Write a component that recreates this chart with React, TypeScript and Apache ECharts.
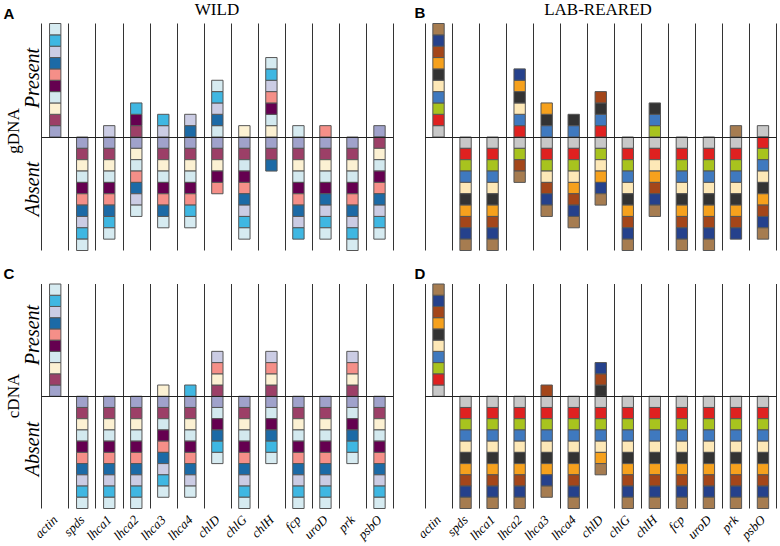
import React, { useEffect, useRef } from "react";
import * as echarts from "echarts";

const genes = ["actin", "spds", "lhca1", "lhca2", "lhca3", "lhca4", "chlD", "chlG", "chlH", "fcp", "uroD", "prk", "psbO"];

// Sample colours (sample 1 = closest to the baseline)
const wildColors = ["#a0a2cb", "#9c3f67", "#fcf1d3", "#d3e9ef", "#650050", "#f58f88", "#1c6aa6", "#cbcce4", "#3fb7e2", "#d6ebf1"];
const labColors = ["#c8c8c8", "#df2120", "#a8c31e", "#3f79bf", "#fde8b7", "#333333", "#f6a11d", "#a4461a", "#25418c", "#a67c50"];

const ALL = [1, 2, 3, 4, 5, 6, 7, 8, 9, 10];
// samples in which the amplicon is present, per gene
const gdnaWildPresent: number[][] = [ALL, [], [8], [2, 5, 9], [8, 9], [7, 8], [4, 7, 8, 9, 10], [3], [3, 4, 5, 6, 8, 9, 10], [10], [6], [], [1]];
const gdnaLabPresent: number[][] = [ALL, [], [], [2, 4, 5, 6, 7, 9], [4, 6, 7], [4, 6], [2, 4, 6, 8], [], [3, 4, 6], [], [], [10], [1]];
const cdnaWildPresent: number[][] = [ALL, [], [], [], [3], [9], [2, 3, 6, 8], [], [2, 3, 6, 8], [], [], [2, 3, 6, 8], []];
const cdnaLabPresent: number[][] = [ALL, [], [], [], [8], [], [6, 8, 9], [], [], [], [], [], []];

function buildCells(present: number[][]) {
  const out: number[][] = [];
  present.forEach((p, g) => {
    let up = 0;
    let down = 0;
    for (let s = 1; s <= 10; s++) {
      if (p.includes(s)) {
        out.push([g, up, up + 1, s - 1]);
        up++;
      } else {
        out.push([g, -down - 1, -down, s - 1]);
        down++;
      }
    }
  });
  return out;
}

const SERIF = "'Liberation Serif', 'Times New Roman', serif";
const SANS = "'Liberation Sans', Arial, sans-serif";

export default function App() {
  const ref = useRef<HTMLDivElement>(null);
  useEffect(() => {
    if (!ref.current) return;
    const chart = echarts.init(ref.current, undefined, { renderer: "svg" });
    const grids = [
      { left: 41.7, top: 23.5, width: 351.3, height: 227 },
      { left: 425, top: 23.5, width: 351.5, height: 227 },
      { left: 41.7, top: 284, width: 351.3, height: 224.5 },
      { left: 425, top: 284, width: 351.5, height: 224.5 },
    ];
    const panels = [
      { data: gdnaWildPresent, colors: wildColors },
      { data: gdnaLabPresent, colors: labColors },
      { data: cdnaWildPresent, colors: wildColors },
      { data: cdnaLabPresent, colors: labColors },
    ];
    const xAxes: any[] = grids.map((_, i) => ({
      type: "category",
      gridIndex: i,
      data: genes,
      position: "bottom",
      boundaryGap: true,
      axisLine: { show: false, onZero: false },
      axisTick: { show: false },
      axisLabel: {
        show: i >= 2,
        interval: 0,
        rotate: 45,
        margin: 9,
        color: "#000",
        fontStyle: "italic",
        fontFamily: SERIF,
        fontSize: 13,
        hideOverlap: false,
      },
      splitLine: { show: true, interval: 0, lineStyle: { color: "#333", width: 1 } },
    }));
    const yAxes = grids.map((_, i) => ({
      type: "value",
      gridIndex: i,
      min: -10,
      max: 10,
      show: false,
    }));
    const series = panels.map((p, i) => ({
      type: "custom",
      xAxisIndex: i,
      yAxisIndex: i,
      encode: { x: 0, y: [1, 2] },
      data: buildCells(p.data),
      markLine: {
        silent: true,
        symbol: ["none", "none"],
        label: { show: false },
        lineStyle: { color: "#222", width: 1, type: "solid" },
        data: [{ yAxis: 0 }],
      },
      renderItem: (params: any, api: any) => {
        const x = api.value(0);
        const p0 = api.coord([x, api.value(1)]);
        const p1 = api.coord([x, api.value(2)]);
        const bw = api.size([1, 0])[0] * 0.42;
        return {
          type: "rect",
          shape: { x: p0[0] - bw / 2, y: p1[1], width: bw, height: p0[1] - p1[1] },
          style: { fill: p.colors[api.value(3)], stroke: "#555", lineWidth: 1 },
        };
      },
    }));
    const txt = (text: string, x: number, y: number, font: string, rotation = 0) => ({
      type: "text",
      x,
      y,
      rotation,
      silent: true,
      style: { text, font, fill: "#000", align: "center", verticalAlign: "middle" },
    });
    const R = Math.PI / 2;
    chart.setOption({
      animation: false,
      backgroundColor: "#fff",
      grid: grids.map((g) => ({ ...g, containLabel: false })),
      xAxis: xAxes,
      yAxis: yAxes,
      series,
      graphic: [
        txt("A", 9, 13, `bold 15px ${SANS}`),
        txt("B", 420, 12, `bold 15px ${SANS}`),
        txt("C", 9, 273, `bold 15px ${SANS}`),
        txt("D", 420, 273, `bold 15px ${SANS}`),
        txt("WILD", 217, 9, `17px ${SERIF}`),
        txt("LAB-REARED", 598, 9, `17px ${SERIF}`),
        txt("gDNA", 13, 131, `17px ${SERIF}`, R),
        txt("Present", 32, 78, `italic 20px ${SERIF}`, R),
        txt("Absent", 32, 189, `italic 20px ${SERIF}`, R),
        txt("cDNA", 13, 396, `17px ${SERIF}`, R),
        txt("Present", 32, 335, `italic 20px ${SERIF}`, R),
        txt("Absent", 32, 449, `italic 20px ${SERIF}`, R),
      ],
    });
    return () => chart.dispose();
  }, []);
  return <div ref={ref} style={{ position: "fixed", left: 0, top: 0, width: 780, height: 546 }} />;
}
